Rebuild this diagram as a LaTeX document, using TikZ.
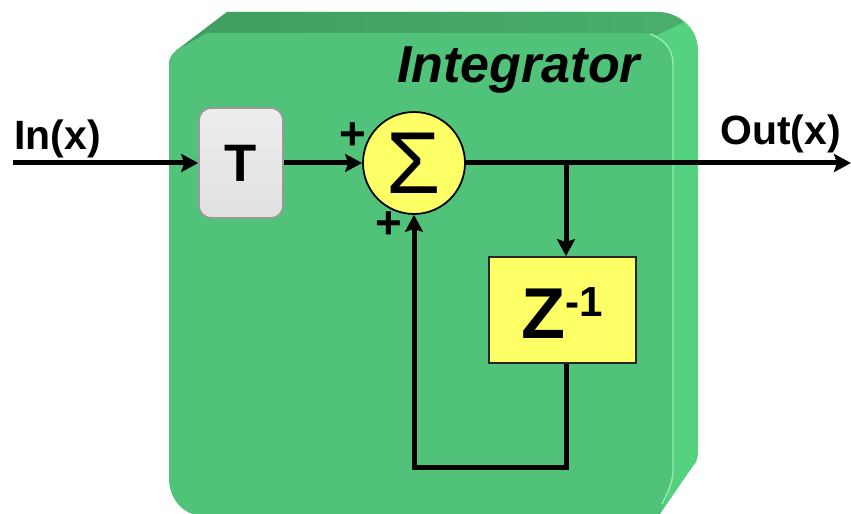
\documentclass[tikz,border=0pt]{standalone}
\usepackage{fontspec}
\setmainfont{Liberation Sans}
\usetikzlibrary{arrows.meta,positioning,calc}
\definecolor{bodyfront}{HTML}{50C279}
\definecolor{bodyside}{HTML}{55D27F}
\definecolor{bodytop}{HTML}{409C60}
\definecolor{bodytopend}{HTML}{4AAE6C}
\definecolor{bodyglow}{HTML}{95EDB4}
\definecolor{blockyellow}{HTML}{FFFF66}

\begin{document}
\begin{tikzpicture}[
    label/.style={font=\fontsize{23.3}{23}\selectfont\bfseries, inner sep=0pt},
    sign/.style={font=\fontsize{26}{26}\selectfont\bfseries, inner sep=0pt},
    delay/.style={rectangle, draw=black!85, line width=1pt, fill=blockyellow, minimum width=2.94cm, minimum height=2.12cm, inner sep=0pt},
    gate/.style={rectangle, rounded corners=7pt, draw=gray!80, line width=0.9pt, top color=gray!14, middle color=gray!30, bottom color=gray!24, minimum width=1.68cm, minimum height=2.2cm, inner sep=0pt, font=\fontsize{30}{30}\selectfont\bfseries},
    adder/.style={circle, draw=black, line width=1pt, fill=blockyellow, minimum size=2.04cm, inner sep=0pt, font=\fontsize{50}{50}\selectfont},
    arr/.style={-{Stealth[length=3.4mm, width=3.6mm, inset=0.6mm]}, line width=0.1cm}
]
\useasboundingbox (0,0) rectangle (17.02,10.28);

% Integrator body
\fill[bodyside] (3.38,9.0) .. controls (3.38,9.12) and (3.44,9.2) .. (3.54,9.28) -- (4.54,10.04) -- (13.14,10.04)
    .. controls (13.6,10.04) and (13.96,9.7) .. (13.96,9.28) -- (13.96,1.28) .. controls (13.96,1.12) and (13.94,1.04) .. (13.86,0.96)
    -- (13.2,0) -- (3.86,0) .. controls (3.55,0.1) and (3.38,0.4) .. (3.38,0.74) -- cycle;
\shade[left color=bodytop, right color=bodytopend] (3.5,9.25) -- (4.54,10.04) -- (13.14,10.04)
    .. controls (13.36,10.04) and (13.55,9.96) .. (13.68,9.84) -- (13.1,9.56) -- (4.14,9.62) -- cycle;
\fill[bodyfront] (3.38,9.0) .. controls (3.38,9.12) and (3.44,9.2) .. (3.54,9.28) -- (4.14,9.62) -- (12.86,9.62)
    .. controls (13.2,9.62) and (13.46,9.36) .. (13.46,9.0) -- (13.46,0.82)
    .. controls (13.44,0.6) and (13.3,0.2) .. (13.2,0) -- (3.86,0) .. controls (3.55,0.1) and (3.38,0.4) .. (3.38,0.74) -- cycle;
\draw[bodyglow, line width=0.8pt] (13.0,9.6) .. controls (13.28,9.5) and (13.46,9.3) .. (13.46,9.0) -- (13.46,0.82) .. controls (13.44,0.6) and (13.34,0.4) .. (13.24,0.2);

% Blocks
\node[gate] (tblock) at (4.82,7.02) {T};
\node[adder] (sum) at (8.28,7.02) {Σ};
\node[delay] (zblock) at (11.25,4.08) {\fontsize{41}{41}\selectfont\bfseries\rule{0pt}{32.8pt}Z\smash{\raisebox{12.5pt}{\fontsize{24}{24}\selectfont -1}}\hspace{0.24cm}};

% Free ends
\coordinate (in) at (0.26,7.02);
\coordinate (out) at (17.02,7.02);
\coordinate (junction) at (11.32,7.02);
\coordinate (loop) at (11.32,0.92);

% Labels
\node[label, anchor=base west] (inlabel) at (0.28,7.28) {In(x)};
\node[label, anchor=base west] (outlabel) at (14.4,7.38) {Out(x)};
\node[font=\fontsize{29.6}{30}\selectfont\bfseries\itshape, inner sep=0pt, anchor=base west] (title) at (7.94,8.62) {Integrator};
\node[sign] (plustop) at (7.05,7.55) {+};
\node[sign] (plusbottom) at (7.78,5.77) {+};

% Arrows
\draw[arr] (in) -- (tblock);
\draw[arr] (tblock) -- (sum);
\draw[arr] (sum) -- (out);
\draw[arr] (junction) -- (junction |- zblock.north);
\draw[arr] (loop |- zblock.south) -- (loop) -| (sum.south);

\end{tikzpicture}
\end{document}
